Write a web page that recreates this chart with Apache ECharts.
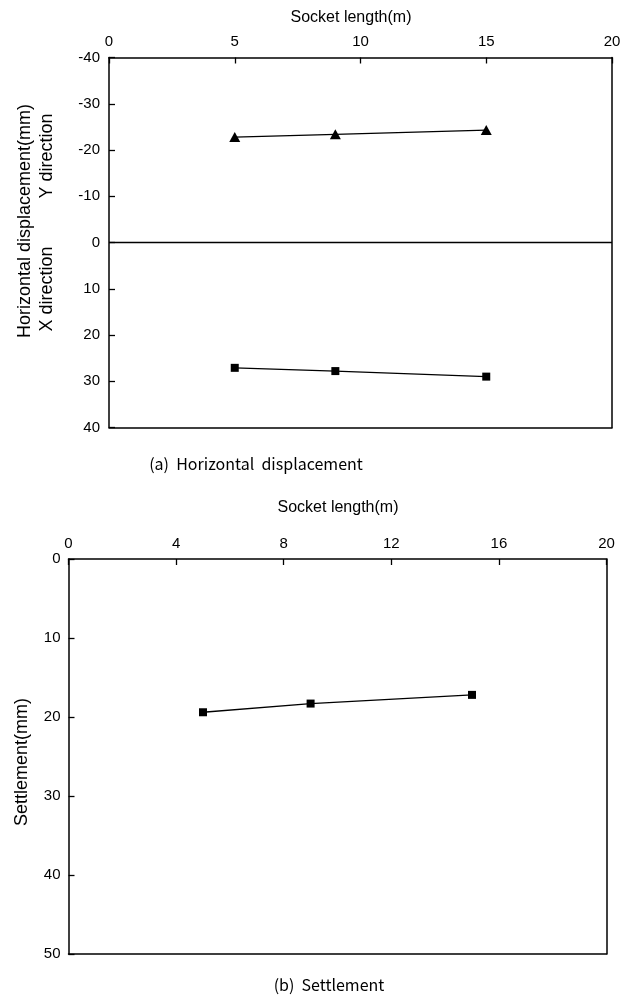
<!DOCTYPE html>
<html>
<head>
<meta charset="utf-8">
<script src="https://cdn.jsdelivr.net/npm/echarts@6/dist/echarts.min.js"></script>
<style>
  html, body { margin: 0; padding: 0; background: #fff; }
  #chart { width: 632px; height: 999px; }
</style>
</head>
<body>
<div id="chart"></div>
<script>
// Socket length (m) at which each case was computed
var socketLength = [5, 9, 15];

// (a) horizontal displacement (mm); Y direction plotted as negative
var dispY = [-22.8, -23.4, -24.3];
var dispX = [27.1, 27.8, 29.0];

// (b) settlement (mm)
var settlement = [19.4, 18.3, 17.2];

function pairs(xs, ys) {
  return xs.map(function (x, i) { return [x, ys[i]]; });
}

var FONT = 'Liberation Sans, Arial, sans-serif';
var CAPTION_FONT = '"Noto Sans CJK KR", sans-serif';
var axisLineStyle = { color: '#000', width: 1.5 };
var tickStyle = { color: '#000', width: 1.3 };

function topXAxis(gridIndex, interval) {
  return {
    gridIndex: gridIndex, type: 'value', position: 'top',
    min: 0, max: 20, interval: interval,
    axisLine: { show: true, onZero: false, lineStyle: axisLineStyle },
    axisTick: { show: true, inside: true, length: 6, lineStyle: tickStyle },
    axisLabel: { color: '#000', fontSize: 15, fontFamily: FONT, margin: 8 },
    splitLine: { show: false }
  };
}
function leftYAxis(gridIndex, min, max, interval, margin) {
  return {
    gridIndex: gridIndex, type: 'value', inverse: true,
    min: min, max: max, interval: interval,
    axisLine: { show: true, onZero: false, lineStyle: axisLineStyle },
    axisTick: { show: true, inside: true, length: 6, lineStyle: tickStyle },
    axisLabel: { color: '#000', fontSize: 15, fontFamily: FONT, margin: margin },
    splitLine: { show: false }
  };
}
// plain frame edges (bottom and right) without ticks or labels
function frameX(gridIndex) {
  return { gridIndex: gridIndex, type: 'value', position: 'bottom', min: 0, max: 20,
    axisLine: { show: true, onZero: false, lineStyle: axisLineStyle },
    axisTick: { show: false }, axisLabel: { show: false }, splitLine: { show: false } };
}
function frameY(gridIndex, min, max) {
  return { gridIndex: gridIndex, type: 'value', position: 'right', min: min, max: max, inverse: true,
    axisLine: { show: true, onZero: false, lineStyle: axisLineStyle },
    axisTick: { show: false }, axisLabel: { show: false }, splitLine: { show: false } };
}

function label(text, x, y, size, rotated, family) {
  return {
    type: 'text', x: x, y: y, rotation: rotated ? Math.PI / 2 : 0,
    style: { text: text, fill: '#000', font: size + 'px ' + (family || FONT),
      textAlign: 'center', textVerticalAlign: 'middle' }
  };
}

var lineStyle = { color: '#000', width: 1.3 };

var chart = echarts.init(document.getElementById('chart'), null, { renderer: 'canvas' });
chart.setOption({
  backgroundColor: '#fff',
  animation: false,
  grid: [
    { left: 109, top: 57.5, width: 503, height: 370 },
    { left: 68.5, top: 559, width: 538, height: 395 }
  ],
  xAxis: [topXAxis(0, 5), frameX(0), topXAxis(1, 4), frameX(1)],
  yAxis: [leftYAxis(0, -40, 40, 10, 9), frameY(0, -40, 40), leftYAxis(1, 0, 50, 10, 8), frameY(1, 0, 50)],
  series: [
    {
      name: 'Y direction', type: 'line', xAxisIndex: 0, yAxisIndex: 0,
      data: pairs(socketLength, dispY),
      symbol: 'triangle', symbolSize: [11, 10],
      itemStyle: { color: '#000' }, lineStyle: lineStyle,
      markLine: {
        silent: true, symbol: ['none', 'none'], label: { show: false },
        lineStyle: { color: '#000', width: 1.3, type: 'solid' },
        data: [{ yAxis: 0 }]
      }
    },
    {
      name: 'X direction', type: 'line', xAxisIndex: 0, yAxisIndex: 0,
      data: pairs(socketLength, dispX),
      symbol: 'rect', symbolSize: 8,
      itemStyle: { color: '#000' }, lineStyle: lineStyle
    },
    {
      name: 'Settlement', type: 'line', xAxisIndex: 2, yAxisIndex: 2,
      data: pairs(socketLength, settlement),
      symbol: 'rect', symbolSize: 8,
      itemStyle: { color: '#000' }, lineStyle: lineStyle
    }
  ],
  graphic: [
    label('Socket length(m)', 351, 18, 16, false),
    label('Horizontal displacement(mm)', 25, 221, 18, true),
    label('Y direction', 47, 156, 18, true),
    label('X direction', 47, 289, 18, true),
    label('(a)  Horizontal  displacement', 256, 464, 16, false, CAPTION_FONT),
    label('Socket length(m)', 338, 508, 16, false),
    label('Settlement(mm)', 22, 762, 18, true),
    label('(b)  Settlement', 329, 985, 16, false, CAPTION_FONT)
  ]
});
</script>
</body>
</html>
